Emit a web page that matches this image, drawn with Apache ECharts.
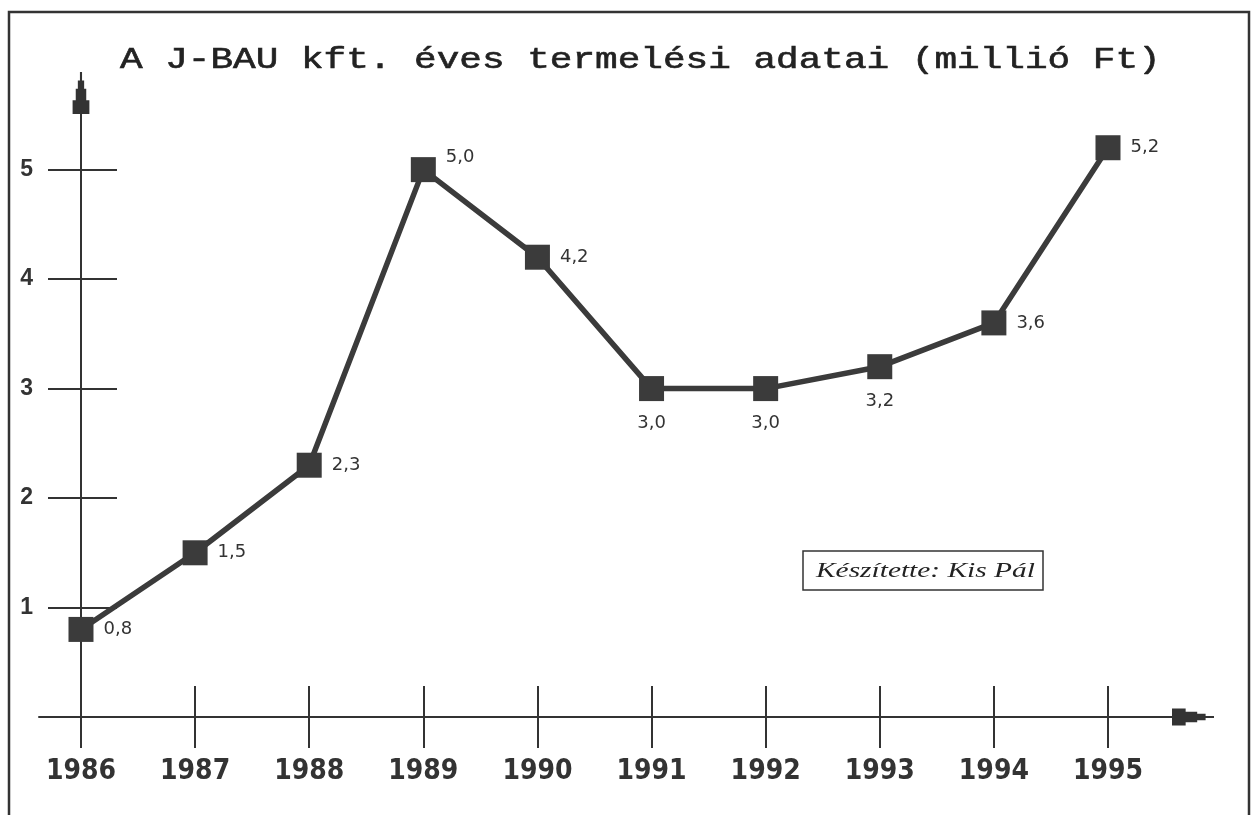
<!DOCTYPE html>
<html>
<head>
<meta charset="utf-8">
<title>A J-BAU kft. éves termelési adatai</title>
<script src="https://cdn.jsdelivr.net/npm/echarts@6/dist/echarts.min.js"></script>
<style>
  html, body { margin: 0; padding: 0; background: #ffffff; }
  #chart { width: 1254px; height: 815px; }
</style>
</head>
<body>
<div id="chart"></div>
<script>
// Yearly production of J-BAU kft. (million Ft)
const years = ['1986', '1987', '1988', '1989', '1990', '1991', '1992', '1993', '1994', '1995'];
const production = [0.8, 1.5, 2.3, 5.0, 4.2, 3.0, 3.0, 3.2, 3.6, 5.2];
const yTicks = [1, 2, 3, 4, 5];
const titleText = 'A J-BAU kft. éves termelési adatai (millió Ft)';
const creditText = 'Készítette: Kis Pál';

// years whose value label sits under the marker
const labelsBelow = ['1991', '1992', '1993'];

const ink = '#333333';
const lineInk = '#3b3b3b';
// stepped "pencil" arrow head, drawn pointing up
const arrowHead = 'path://M7,0 L9,0 L9,8 L11,8 L11,16 L13,16 L13,27 L16,27 L16,40 L0,40 L0,27 L3,27 L3,16 L5,16 L5,8 L7,8 Z';

const xIdx = years.map((_, i) => i);
const xRange = { min: -0.368, max: 9.745 };
const yRange = { min: -0.274, max: 5.70 };

const fmt = v => v.toFixed(1).replace('.', ',');

const seriesData = production.map((v, i) => {
  const item = { value: [i, v] };
  if (labelsBelow.includes(years[i])) {
    item.label = { position: 'bottom', distance: 13 };
  } else if (years[i] === '1989') {
    item.label = { position: 'right', offset: [0, -12] };
  }
  return item;
});

const chart = echarts.init(document.getElementById('chart'), null, { renderer: 'canvas' });

chart.setOption({
  backgroundColor: '#ffffff',
  animation: false,
  grid: { left: 39, right: 61, top: 93, bottom: 68, containLabel: false, outerBoundsMode: 'none' },
  xAxis: [
    {
      type: 'value',
      min: xRange.min,
      max: xRange.max,
      axisLine: {
        show: true, onZero: true, onZeroAxisIndex: 0,
        symbol: ['none', arrowHead], symbolSize: [17, 42],
        lineStyle: { color: ink, width: 2 }
      },
      axisTick: { show: true, inside: false, length: 31, customValues: xIdx, lineStyle: { color: ink, width: 2 } },
      axisLabel: {
        show: true, customValues: xIdx, margin: 11,
        formatter: v => years[Math.round(v)] || '',
        fontFamily: '"DejaVu Sans Condensed", "DejaVu Sans"', fontWeight: 'bold', fontSize: 28, color: ink
      },
      splitLine: { show: false }
    },
    {
      type: 'value',
      position: 'bottom',
      min: xRange.min,
      max: xRange.max,
      axisLine: { show: false, onZero: true, onZeroAxisIndex: 0 },
      axisTick: { show: true, inside: true, length: 31, customValues: xIdx, lineStyle: { color: ink, width: 2 } },
      axisLabel: { show: false },
      splitLine: { show: false }
    }
  ],
  yAxis: [
    {
      type: 'value',
      position: 'left',
      min: yRange.min,
      max: yRange.max,
      axisLine: {
        show: true, onZero: true, onZeroAxisIndex: 0,
        symbol: ['none', arrowHead], symbolSize: [17, 42],
        lineStyle: { color: ink, width: 2 }
      },
      axisTick: { show: true, inside: false, length: 33, customValues: yTicks, lineStyle: { color: ink, width: 2 } },
      axisLabel: {
        show: true, customValues: yTicks, margin: 6,
        fontFamily: '"Liberation Sans", Arial, sans-serif', fontWeight: 'bold', fontSize: 23, color: ink
      },
      splitLine: { show: false }
    },
    {
      type: 'value',
      position: 'left',
      min: yRange.min,
      max: yRange.max,
      axisLine: { show: false, onZero: true, onZeroAxisIndex: 0 },
      axisTick: { show: true, inside: true, length: 36, customValues: yTicks, lineStyle: { color: ink, width: 2 } },
      axisLabel: { show: false },
      splitLine: { show: false }
    }
  ],
  series: [
    {
      type: 'line',
      xAxisIndex: 0,
      yAxisIndex: 0,
      data: seriesData,
      symbol: 'rect',
      symbolSize: 25,
      z: 5,
      itemStyle: { color: lineInk },
      lineStyle: { color: lineInk, width: 5.5 },
      label: {
        show: true,
        position: 'right',
        distance: 10,
        formatter: p => fmt(p.value[1]),
        fontFamily: '"DejaVu Sans", Verdana, sans-serif',
        fontSize: 18,
        color: ink
      }
    }
  ],
  graphic: [
    {
      type: 'rect',
      silent: true,
      shape: { x: 9, y: 12, width: 1240, height: 900 },
      style: { fill: 'none', stroke: ink, lineWidth: 2.5 }
    },
    {
      type: 'text',
      silent: true,
      x: 120,
      y: 60,
      scaleX: 1.3,
      style: {
        text: titleText,
        font: '29px "Liberation Mono", "Courier New", monospace',
        fill: '#222222',
        stroke: '#222222',
        lineWidth: 0.6,
        align: 'left',
        verticalAlign: 'middle'
      }
    },
    {
      type: 'rect',
      silent: true,
      shape: { x: 803, y: 551, width: 240, height: 39 },
      style: { fill: '#ffffff', stroke: ink, lineWidth: 1.5 }
    },
    {
      type: 'text',
      silent: true,
      x: 816,
      y: 571,
      scaleX: 1.4,
      style: {
        text: creditText,
        font: 'italic 21px "Liberation Serif", "Times New Roman", serif',
        fill: '#222222',
        align: 'left',
        verticalAlign: 'middle'
      }
    }
  ]
});
</script>
</body>
</html>
